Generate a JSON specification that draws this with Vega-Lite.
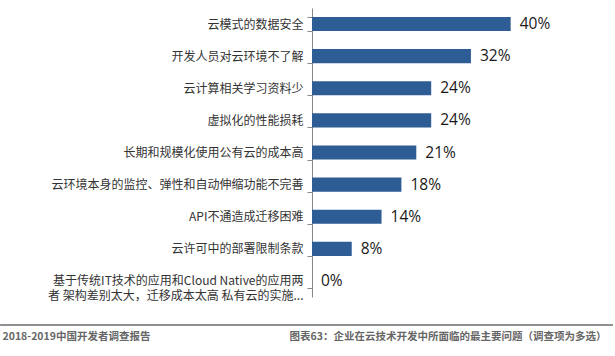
{
  "$schema": "https://vega.github.io/schema/vega-lite/v6.json",
  "width": 298,
  "height": 289,
  "autosize": {"type": "none"},
  "padding": {"left": 312, "top": 8, "right": 5, "bottom": 59},
  "background": "white",
  "config": {"view": {"stroke": null}, "font": "Noto Sans CJK SC"},
  "data": {
    "values": [
      {"issue": "云模式的数据安全", "pct": 0.40},
      {"issue": "开发人员对云环境不了解", "pct": 0.32},
      {"issue": "云计算相关学习资料少", "pct": 0.24},
      {"issue": "虚拟化的性能损耗", "pct": 0.24},
      {"issue": "长期和规模化使用公有云的成本高", "pct": 0.21},
      {"issue": "云环境本身的监控、弹性和自动伸缩功能不完善", "pct": 0.18},
      {"issue": "API不通造成迁移困难", "pct": 0.14},
      {"issue": "云许可中的部署限制条款", "pct": 0.08},
      {"issue": "基于传统IT技术的应用和Cloud Native的应用两|者 架构差别太大，迁移成本太高 私有云的实施...", "pct": 0.0}
    ]
  },
  "encoding": {
    "y": {
      "field": "issue",
      "type": "nominal",
      "sort": null,
      "scale": {"paddingInner": 0.56, "paddingOuter": 0.28},
      "axis": {
        "title": "2018-2019中国开发者调查报告",
        "titleAngle": 0,
        "titleX": -310,
        "titleY": 328,
        "titleAlign": "left",
        "titleBaseline": "middle",
        "titleFontSize": 10.5,
        "titleFontWeight": "bold",
        "titleColor": "#666666",
        "labelExpr": "split(datum.label, '|')",
        "labelFontSize": 12,
        "labelColor": "#333333",
        "labelLineHeight": 15,
        "labelPadding": 4,
        "labelLimit": 320,
        "tickBand": "extent",
        "tickSize": 5,
        "tickColor": "#888888",
        "domainColor": "#888888",
        "grid": false
      }
    },
    "x": {
      "field": "pct",
      "type": "quantitative",
      "scale": {"domain": [0, 0.6]},
      "axis": {
        "title": "图表63：企业在云技术开发中所面临的最主要问题（调查项为多选）",
        "titleAnchor": "end",
        "titleAlign": "right",
        "titleX": 294,
        "titleY": 39,
        "titleBaseline": "middle",
        "titleFontSize": 10.5,
        "titleFontWeight": "bold",
        "titleColor": "#666666",
        "labels": false,
        "ticks": false,
        "domain": false,
        "grid": false
      }
    }
  },
  "layer": [
    {"mark": {"type": "bar", "color": "#2E5D96"}},
    {
      "mark": {"type": "text", "align": "left", "dx": 9, "fontSize": 15.5, "font": "Open Sans", "color": "#1a1a1a"},
      "encoding": {"text": {"field": "pct", "type": "quantitative", "format": ".0%"}}
    },
    {
      "data": {"values": [{"a": -0.628, "b": 0.606}]},
      "mark": {"type": "rule", "color": "#222222", "strokeWidth": 1.2, "clip": false},
      "encoding": {
        "x": {"field": "a", "type": "quantitative"},
        "x2": {"field": "b"},
        "y": {"value": 317}
      }
    }
  ]
}
